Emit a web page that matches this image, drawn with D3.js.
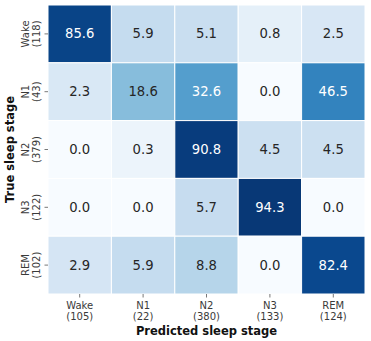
<!DOCTYPE html>
<html><head><meta charset="utf-8">
<script src="https://cdn.jsdelivr.net/npm/d3@7"></script>
<style>body{margin:0;background:#fff}svg{display:block}</style>
</head><body>
<script>
const stages = ["Wake","N1","N2","N3","REM"];
const trueCounts = [118,43,379,122,102];
const predCounts = [105,22,380,133,124];
const values = [
  [85.6, 5.9, 5.1, 0.8, 2.5],
  [2.3, 18.6, 32.6, 0.0, 46.5],
  [0.0, 0.3, 90.8, 4.5, 4.5],
  [0.0, 0.0, 5.7, 94.3, 0.0],
  [2.9, 5.9, 8.8, 0.0, 82.4]
];
const W = 371, H = 341;
const m = {left:48, top:5, right:6, bottom:47};
const svg = d3.select("body").append("svg").attr("width",W).attr("height",H);
const x = d3.scaleBand().domain(stages).range([m.left, W-m.right]);
const y = d3.scaleBand().domain(stages).range([m.top, H-m.bottom]);
const color = d3.scaleSequentialSqrt(d3.interpolateBlues).domain([0, 100]);
const font = "DejaVu Sans, sans-serif";

function lum(c){
  const rgb = d3.rgb(c);
  const f = v => { v/=255; return v<=0.03928? v/12.92 : Math.pow((v+0.055)/1.055,2.4); };
  return 0.2126*f(rgb.r)+0.7152*f(rgb.g)+0.0722*f(rgb.b);
}

const cells = [];
values.forEach((row,i)=>row.forEach((v,j)=>cells.push({r:stages[i],c:stages[j],v})));
const g = svg.append("g");
g.selectAll("rect").data(cells).join("rect")
  .attr("x",d=>x(d.c)).attr("y",d=>y(d.r))
  .attr("width",x.bandwidth()).attr("height",y.bandwidth())
  .attr("fill",d=>color(d.v)).attr("stroke","#fff").attr("stroke-width",1);
g.selectAll("text").data(cells).join("text")
  .attr("x",d=>x(d.c)+x.bandwidth()/2).attr("y",d=>y(d.r)+y.bandwidth()/2)
  .attr("text-anchor","middle").attr("dominant-baseline","central")
  .attr("font-family",font).attr("font-size",13.2)
  .attr("fill",d=>lum(color(d.v))>0.408?"#262626":"#fff")
  .text(d=>d.v.toFixed(1));

// x axis
const xa = svg.append("g").attr("transform",`translate(0,${H-m.bottom})`)
  .call(d3.axisBottom(x).tickSize(3.5).tickSizeOuter(0).tickFormat(""));
xa.select(".domain").remove();
xa.selectAll(".tick line").attr("stroke","#555").attr("stroke-width",0.8);
xa.selectAll(".tick").each(function(d,i){
  const t = d3.select(this).append("text").attr("fill","#3a3a3a")
    .attr("font-family",font).attr("font-size",10).attr("text-anchor","middle");
  t.append("tspan").attr("x",0).attr("y",15).text(d);
  t.append("tspan").attr("x",0).attr("y",26).text(`(${predCounts[i]})`);
});
// y axis
const ya = svg.append("g").attr("transform",`translate(${m.left},0)`)
  .call(d3.axisLeft(y).tickSize(3.5).tickSizeOuter(0).tickFormat(""));
ya.select(".domain").remove();
ya.selectAll(".tick line").attr("stroke","#555").attr("stroke-width",0.8);
ya.selectAll(".tick").each(function(d,i){
  const t = d3.select(this).append("text").attr("fill","#3a3a3a")
    .attr("font-family",font).attr("font-size",10).attr("text-anchor","middle")
    .attr("transform","rotate(-90)");
  t.append("tspan").attr("x",0).attr("y",-19.5).text(d);
  t.append("tspan").attr("x",0).attr("y",-8.5).text(`(${trueCounts[i]})`);
});
svg.append("text").attr("x",(m.left+W-m.right)/2).attr("y",335)
  .attr("text-anchor","middle").attr("font-family",font).attr("font-weight","bold")
  .attr("font-size",11.5).attr("fill","#111").text("Predicted sleep stage");
svg.append("text").attr("transform",`translate(13.5,${(m.top+H-m.bottom)/2}) rotate(-90)`)
  .attr("text-anchor","middle").attr("font-family",font).attr("font-weight","bold")
  .attr("font-size",11.5).attr("fill","#111").text("True sleep stage");
</script>
</body></html>
